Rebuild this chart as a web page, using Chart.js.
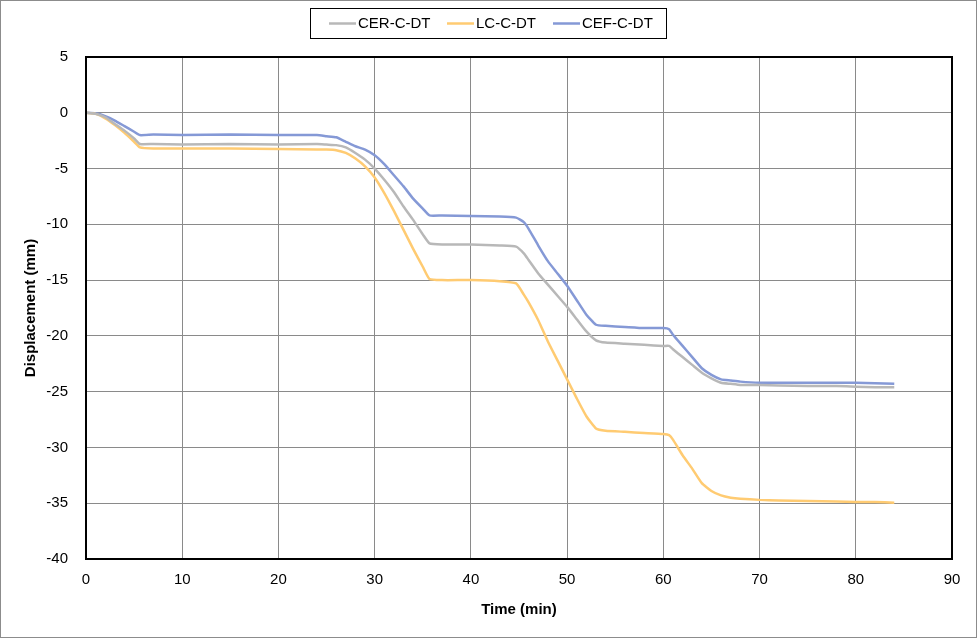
<!DOCTYPE html>
<html>
<head>
<meta charset="utf-8">
<script src="https://cdn.jsdelivr.net/npm/chart.js@4"></script>
<style>
  body { margin: 0; background: #fff; }
  #wrap { width: 977px; height: 638px; }
</style>
</head>
<body>
<div id="wrap"><canvas id="chart" width="977" height="638"></canvas></div>
<script>
// time in minutes
const times = [0, 1, 2, 3, 4, 5, 5.6, 7, 10, 15, 20, 24, 25, 26, 27, 28, 29, 30, 31, 32, 33, 34, 35, 35.7, 37, 40, 43, 44.7,
  45.5, 46, 47, 48, 49, 50, 51, 52, 53, 54, 56, 58, 60, 60.6, 61, 62, 63, 64, 65, 66, 67, 68, 70, 72, 75, 78, 80, 82, 84];

const cerValues = [0, -0.1, -0.4, -1.0, -1.6, -2.3, -2.8, -2.8, -2.85, -2.8, -2.85, -2.8, -2.85, -2.9, -3.1, -3.6, -4.2, -5.0,
  -6.0, -7.1, -8.4, -9.6, -10.9, -11.7, -11.8, -11.8, -11.9, -12.0,
  -12.6, -13.2, -14.4, -15.4, -16.4, -17.4, -18.5, -19.6, -20.4, -20.6, -20.7, -20.8, -20.9, -20.9, -21.2, -21.9, -22.6,
  -23.3, -23.8, -24.2, -24.3, -24.4, -24.4, -24.45, -24.5, -24.5, -24.55, -24.6, -24.6];

const lcValues = [0, -0.1, -0.5, -1.1, -1.8, -2.6, -3.1, -3.2, -3.2, -3.2, -3.25, -3.3, -3.3, -3.35, -3.6, -4.1, -4.8, -5.8,
  -7.2, -8.8, -10.5, -12.2, -13.8, -14.9, -15.0, -15.0, -15.1, -15.3,
  -16.3, -17.0, -18.6, -20.5, -22.2, -23.9, -25.6, -27.2, -28.3, -28.5, -28.6, -28.7, -28.8, -28.9, -29.3, -30.7, -31.9,
  -33.2, -33.9, -34.3, -34.5, -34.6, -34.7, -34.75, -34.8, -34.85, -34.9, -34.9, -34.95];

const cefValues = [0, -0.05, -0.3, -0.7, -1.2, -1.7, -2.0, -1.95, -2.0, -1.95, -2.0, -2.0, -2.1, -2.2, -2.6, -3.0, -3.3, -3.8,
  -4.6, -5.6, -6.6, -7.7, -8.6, -9.2, -9.2, -9.25, -9.3, -9.4,
  -9.8, -10.4, -11.9, -13.3, -14.4, -15.5, -16.8, -18.1, -19.0, -19.1, -19.2, -19.3, -19.3, -19.4, -19.9, -20.9, -21.9,
  -22.9, -23.5, -23.9, -24.0, -24.1, -24.2, -24.2, -24.2, -24.2, -24.2, -24.25, -24.3];

const seriesNames = ["CER-C-DT", "LC-C-DT", "CEF-C-DT"];
const seriesColors = ["#b8b8b8", "#ffcb72", "#8599d6"];

const FONT = "'Liberation Sans', sans-serif";

const toPoints = (vals) => vals.map((v, i) => ({ x: times[i], y: v }));

const frame = {
  id: "frame",
  afterDraw(chart) {
    const ctx = chart.ctx;
    const a = chart.chartArea;
    ctx.save();
    // outer border
    ctx.strokeStyle = "#8c8c8c";
    ctx.lineWidth = 1;
    ctx.strokeRect(0.5, 0.5, chart.width - 1, chart.height - 1);
    // plot border
    ctx.strokeStyle = "#000";
    ctx.lineWidth = 2;
    ctx.strokeRect(a.left, a.top, a.right - a.left, a.bottom - a.top);
    // legend box
    ctx.lineWidth = 1;
    ctx.strokeRect(310.5, 8.5, 356, 30);
    const starts = [329, 447, 553];
    ctx.font = "15px " + FONT;
    ctx.textBaseline = "middle";
    ctx.fillStyle = "#000";
    chart.data.datasets.forEach((ds, i) => {
      ctx.strokeStyle = ds.borderColor;
      ctx.lineWidth = 2.5;
      ctx.beginPath();
      ctx.moveTo(starts[i], 23.5);
      ctx.lineTo(starts[i] + 27, 23.5);
      ctx.stroke();
      ctx.fillText(ds.label, starts[i] + 29, 24);
    });
    ctx.restore();
  }
};

new Chart(document.getElementById("chart"), {
  type: "line",
  data: {
    datasets: seriesNames.map((name, i) => ({
      label: name,
      data: toPoints([cerValues, lcValues, cefValues][i]),
      borderColor: seriesColors[i],
      borderWidth: 2.5,
      pointRadius: 0,
      tension: 0.15,
      fill: false
    }))
  },
  options: {
    responsive: false,
    animation: false,
    layout: { padding: { top: 57, right: 25, left: 22, bottom: 19 } },
    plugins: {
      legend: { display: false },
      tooltip: { enabled: false }
    },
    scales: {
      x: {
        type: "linear",
        min: 0,
        max: 90,
        ticks: { stepSize: 10, color: "#000", font: { family: FONT, size: 15 }, padding: 12 },
        grid: { color: "#8a8a8a", lineWidth: 1, drawTicks: false },
        border: { display: false },
        title: { display: true, text: "Time (min)", color: "#000", font: { family: FONT, size: 15, weight: "bold" }, padding: { top: 6, bottom: 0 } },
        afterFit: (s) => { s.height = 60; }
      },
      y: {
        min: -40,
        max: 5,
        ticks: { stepSize: 5, color: "#000", font: { family: FONT, size: 15 }, padding: 18 },
        grid: { color: "#8a8a8a", lineWidth: 1, drawTicks: false },
        border: { display: false },
        title: { display: true, text: "Displacement (mm)", color: "#000", font: { family: FONT, size: 15, weight: "bold" }, padding: { top: 0, bottom: 6 } },
        afterFit: (s) => { s.width = 64; }
      }
    }
  },
  plugins: [frame]
});
</script>
</body>
</html>
